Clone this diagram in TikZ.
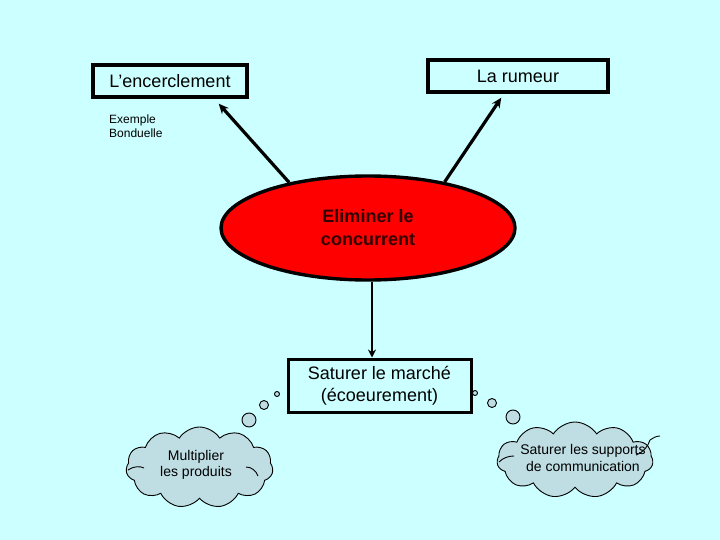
\documentclass[tikz,border=0pt]{standalone}
\usepackage{fontspec}
\setmainfont{Liberation Sans}
\usetikzlibrary{shapes.geometric,shapes.symbols,arrows.meta}
\definecolor{bgc}{RGB}{204,255,255}
\definecolor{cloudc}{RGB}{190,222,228}
\definecolor{elltext}{RGB}{50,0,0}
\tikzset{
  boxnode/.style={draw=black, line width=3.4pt, fill=bgc, inner sep=0pt, align=center, font=\fontsize{18}{22}\selectfont},
  ellnode/.style={ellipse, draw=black, line width=3.4pt, fill=red, inner sep=0pt, align=center, text=elltext, font=\fontsize{18}{23}\selectfont\bfseries},
  cloudnode/.style={cloud, cloud puffs=11, cloud puff arc=115, aspect=1.8, draw=black, line width=0.9pt, fill=cloudc, inner sep=0pt},
  cloudtext/.style={align=center, inner sep=0pt, font=\fontsize{14}{16.5}\selectfont},
  bubble/.style={circle, draw=black, line width=0.9pt, fill=cloudc, inner sep=0pt},
  flick/.style={draw=black, line width=0.9pt},
  arr/.style={line width=3.2pt, -{Stealth[length=10pt,width=9pt]}},
  arrthin/.style={line width=2.2pt, -{Stealth[length=8pt,width=8pt]}},
  note/.style={align=left, inner sep=0pt, font=\fontsize{12}{14}\selectfont}
}
\begin{document}
\begin{tikzpicture}[x=1pt,y=-1pt]
\fill[bgc] (0,0) rectangle (720,540);
\useasboundingbox (0,0) rectangle (720,540);

\node[boxnode, minimum width=154pt, minimum height=32pt] (enc) at (170,81) {L’encerclement};
\node[boxnode, minimum width=180pt, minimum height=32pt] (rum) at (518,76) {La rumeur};
\node[note, anchor=north west] (ex) at (109,115) {Exemple\\Bonduelle};

\node[ellnode, minimum width=294pt, minimum height=104pt] (ell) at (368,228) {Eliminer le\\concurrent};

\node[boxnode, line width=3pt, minimum width=183pt, minimum height=53pt] (sat) at (379.5,385.5) {Saturer le marché\\(écoeurement)};

\draw[arr] (ell.150) -- ([xshift=-30pt,yshift=-5pt]enc.south east);
\draw[arr] (ell.31) -- ([xshift=75pt,yshift=-4pt]rum.south west);
\draw[arrthin] ([xshift=4pt]ell.south) -- ([xshift=4pt]ell.south |- sat.north);

\node[cloudnode, minimum width=147pt, minimum height=81pt] (c1) at (199.5,467.5) {};
\node[cloudtext] (t1) at (196,465) {Multiplier\\les produits};
\draw[flick] (128,470) .. controls (134,466) and (140,466) .. (144,468);
\draw[flick] (246,467) .. controls (252,467) and (256,471) .. (258,476);
\node[bubble, minimum size=14pt] (b13) at (249,420) {};
\node[bubble, minimum size=9pt] (b12) at (264,405) {};
\node[bubble, minimum size=5pt] (b11) at (277,394) {};

\node[cloudnode, minimum width=156pt, minimum height=76pt] (c2) at (575,460) {};
\node[cloudtext] (t2) at (583,458) {Saturer les supports\\de communication};
\draw[flick] (499,462) .. controls (503,458) and (508,456) .. (514,456);
\draw[flick] (636,455) .. controls (644,452) and (648,446) .. (650,440);
\draw[flick] (650,440) .. controls (653,438) and (656,436) .. (660,436);
\node[bubble, minimum size=14pt] (b23) at (513,417) {};
\node[bubble, minimum size=9pt] (b22) at (492,403) {};
\node[bubble, minimum size=5pt] (b21) at (475,393) {};
\end{tikzpicture}
\end{document}
